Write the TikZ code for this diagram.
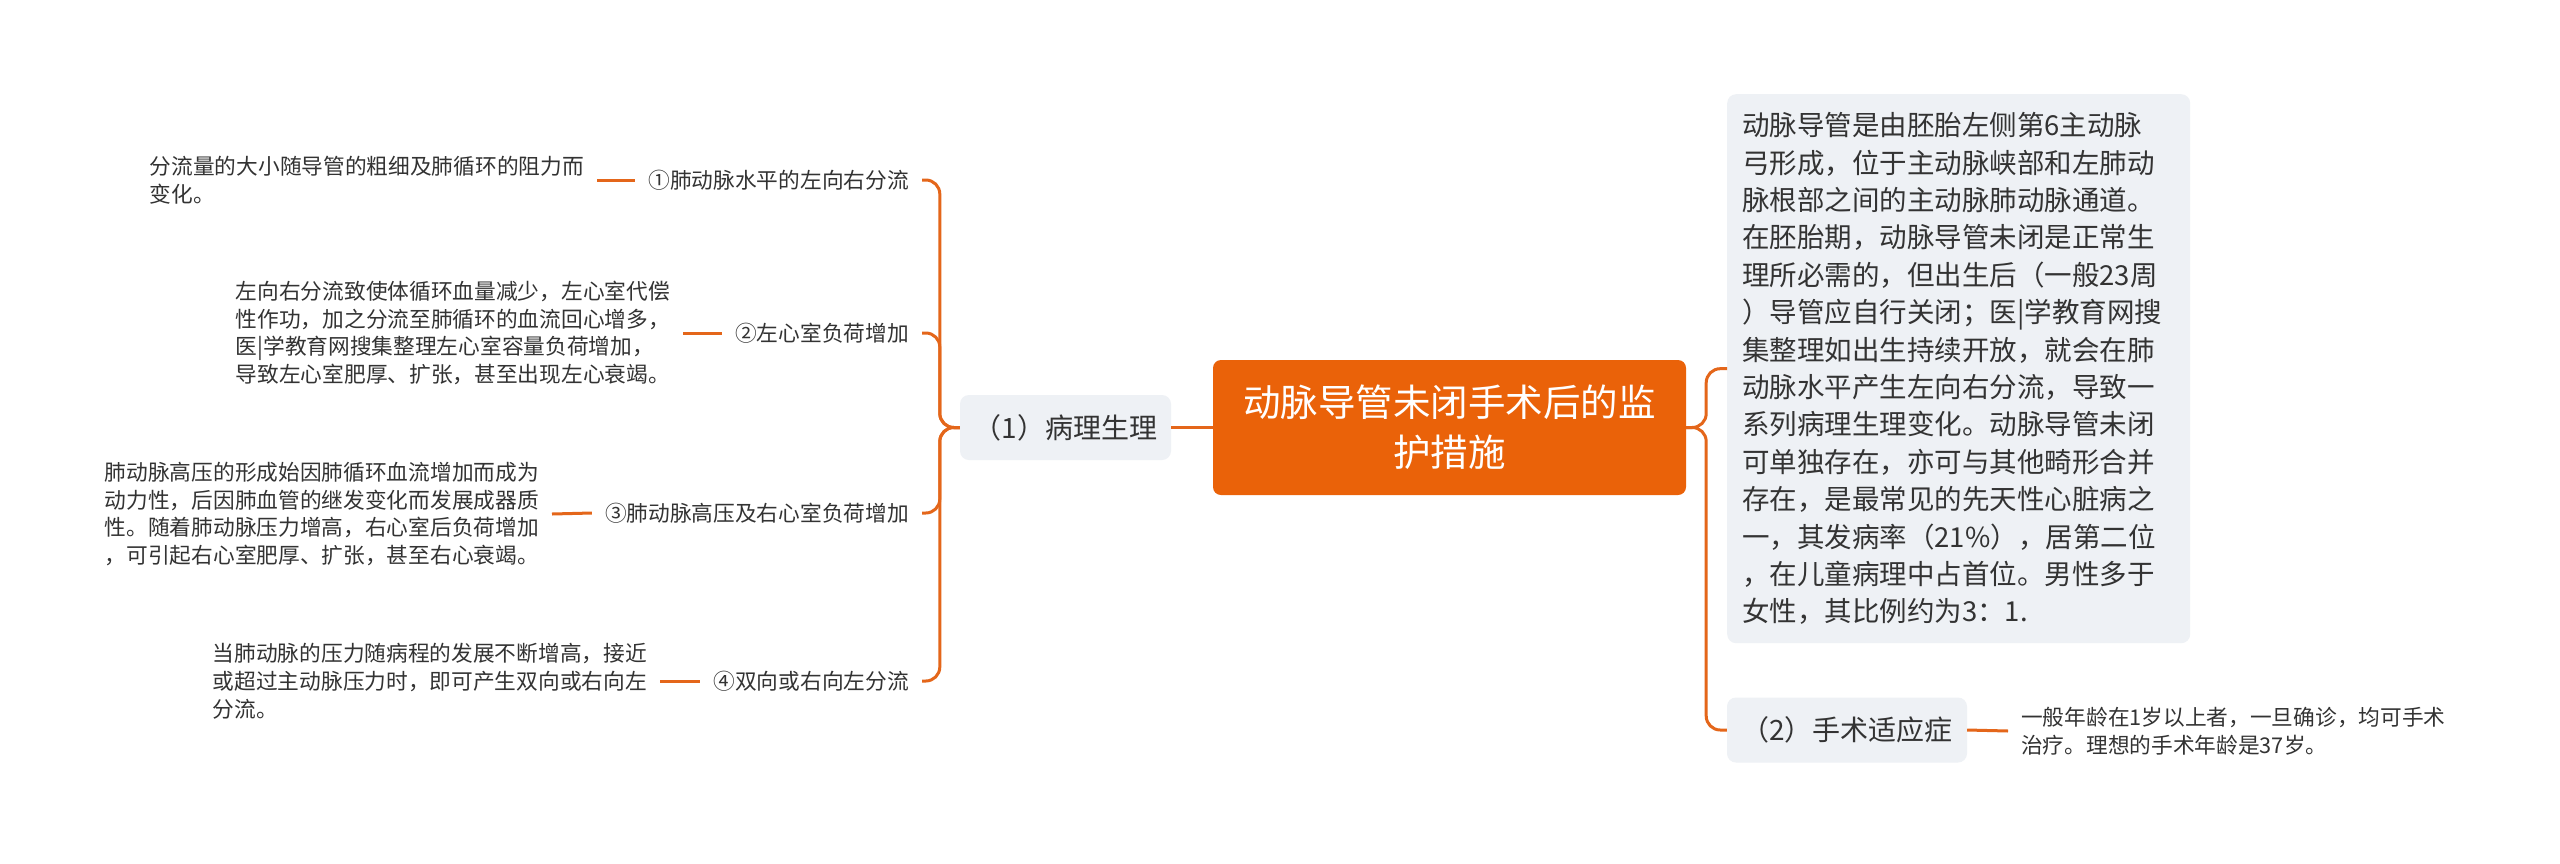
\documentclass[tikz,border=0pt]{standalone}
\usepackage{fontspec}
\setmainfont{Noto Sans CJK SC}
\definecolor{org}{HTML}{EA6209}
\definecolor{lineorg}{HTML}{E4661A}
\definecolor{gbox}{HTML}{EEF1F5}
\definecolor{txt}{HTML}{333333}
\begin{document}
\begin{tikzpicture}[x=1pt,y=-1pt,
 conn/.style={draw=lineorg, line width=3pt},
 br/.style={conn, rounded corners=14pt},
 central/.style={fill=org, rounded corners=8pt, text=white, minimum width=473pt, minimum height=135pt, align=center, font=\fontsize{37.5}{50}\selectfont, inner sep=0pt},
 lvl1/.style={fill=gbox, rounded corners=9pt, text=txt, minimum height=65pt, inner xsep=0pt, font=\fontsize{28}{36}\selectfont},
 item/.style={text=txt, inner xsep=13pt, inner ysep=4pt, font=\fontsize{21.7}{28}\selectfont},
 desc/.style={text=txt, inner xsep=13pt, inner ysep=4pt, align=left, font=\fontsize{21.7}{27.8}\selectfont},
]
\fill[white] (0,0) rectangle (2560,863);
\useasboundingbox (0,0) rectangle (2560,863);

\node[central] (c) at (1449.5,427.5) {动脉导管未闭手术后的监\\护措施};
\node[lvl1, minimum width=211pt] (p1) at (1065.5,427.5) {（1）病理生理};
\node[lvl1, minimum width=240pt] (p2) at (1847,730) {（2）手术适应症};
\node[fill=gbox, rounded corners=9pt, text=txt, anchor=north west, text width=433pt, inner xsep=15pt, minimum height=549pt, align=left, font=\fontsize{27.5}{37.4}\selectfont] (big) at (1727,94) {动脉导管是由胚胎左侧第6主动脉\\弓形成，位于主动脉峡部和左肺动\\脉根部之间的主动脉肺动脉通道。\\在胚胎期，动脉导管未闭是正常生\\理所必需的，但出生后（一般23周\\）导管应自行关闭；医|学教育网搜\\集整理如出生持续开放，就会在肺\\动脉水平产生左向右分流，导致一\\系列病理生理变化。动脉导管未闭\\可单独存在，亦可与其他畸形合并\\存在，是最常见的先天性心脏病之\\一，其发病率（21\%），居第二位\\，在儿童病理中占首位。男性多于\\女性，其比例约为3：1.};

\node[item, anchor=east] (i1) at (922,180) {①肺动脉水平的左向右分流};
\node[item, anchor=east] (i2) at (922,333) {②左心室负荷增加};
\node[item, anchor=east] (i3) at (922,513) {③肺动脉高压及右心室负荷增加};
\node[item, anchor=east] (i4) at (922,681) {④双向或右向左分流};

\node[desc, anchor=east] (d1) at (597,180) {分流量的大小随导管的粗细及肺循环的阻力而\\变化。};
\node[desc, anchor=east] (d2) at (683,333) {左向右分流致使体循环血量减少，左心室代偿\\性作功，加之分流至肺循环的血流回心增多，\\医|学教育网搜集整理左心室容量负荷增加，\\导致左心室肥厚、扩张，甚至出现左心衰竭。};
\node[desc, anchor=east] (d3) at (552,514) {肺动脉高压的形成始因肺循环血流增加而成为\\动力性，后因肺血管的继发变化而发展成器质\\性。随着肺动脉压力增高，右心室后负荷增加\\，可引起右心室肥厚、扩张，甚至右心衰竭。};
\node[desc, anchor=east] (d4) at (660,681) {当肺动脉的压力随病程的发展不断增高，接近\\或超过主动脉压力时，即可产生双向或右向左\\分流。};
\node[desc, anchor=west] (d5) at (2008,731) {一般年龄在1岁以上者，一旦确诊，均可手术\\治疗。理想的手术年龄是37岁。};

\draw[conn] (c.west) -- (p1.east);
\foreach \n in {i1,i2,i3,i4} {\draw[br] (p1.west) -- ++(-20,0) |- (\n.east);}
\draw[conn] (d1.east) -- (i1.west);
\draw[conn] (d2.east) -- (i2.west);
\draw[conn] (d3.east) -- (i3.west);
\draw[conn] (d4.east) -- (i4.west);
\draw[br] (c.east) -- ++(20,0) |- (big.west);
\draw[br] (c.east) -- ++(20,0) |- (p2.west);
\draw[conn] (p2.east) -- (d5.west);
\end{tikzpicture}
\end{document}
